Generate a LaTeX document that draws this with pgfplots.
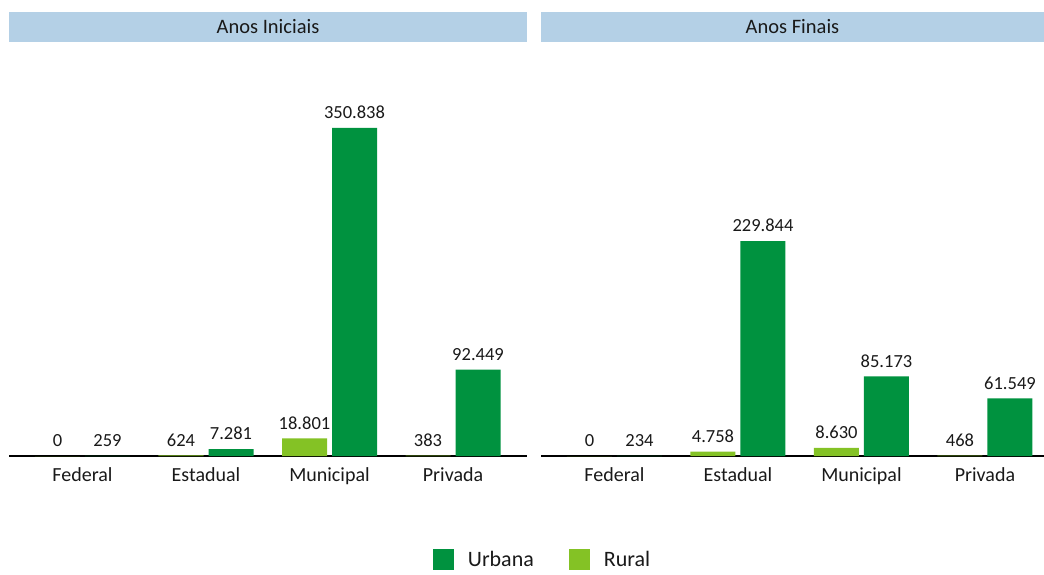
\documentclass[border=0pt]{standalone}
\usepackage{pgfplots}
\pgfplotsset{compat=1.18}
\usepackage{fontspec}
\setmainfont{Carlito}
\definecolor{hdr}{RGB}{180,208,230}
\definecolor{urb}{RGB}{0,146,63}
\definecolor{rur}{RGB}{132,194,37}
\definecolor{txt}{RGB}{25,25,25}

\pgfplotsset{
  panel/.style={
    scale only axis, width=#1, height=414pt,
    ybar=5pt, bar width=45pt,
    ymin=0, ymax=442800, xmin=-0.595,
    axis x line=bottom, axis y line=none,
    axis line style={-, black, line width=1.1pt},
    major tick length=0pt,
    xtick={0,1,2,3},
    xticklabels={Federal,Estadual,Municipal,Privada},
    xticklabel style={font=\fontsize{20}{24}\selectfont, text=txt, yshift=-8pt},
    /pgf/number format/assume math mode=true,
    /pgf/number format/.cd, fixed, precision=0, 1000 sep={.}, /pgfplots/.cd,
    nodes near coords,
    every node near coord/.append style={font=\fontsize{18.5}{22}\selectfont, text=txt, inner sep=0pt, yshift=9pt},
    every axis title shift=0pt,
    title style={at={(0.5,1)}, anchor=south, fill=hdr, minimum width=#1, minimum height=30pt,
      inner sep=0pt, font=\fontsize{20.5}{24}\selectfont, text=txt},
    clip=false,
    area legend,
  },
}

\begin{document}
\begin{tikzpicture}
\path[use as bounding box] (0,0) rectangle (1044pt,574pt);

\begin{axis}[panel=518pt, xmax=3.599, at={(9pt,118pt)}, anchor=south west,
  title={Anos Iniciais},
  legend style={at={(1.029,-0.250)}, anchor=center, draw=none, fill=none,
    font=\fontsize{22}{26}\selectfont, text=txt, legend columns=2,
    inner sep=0pt, nodes={inner sep=1pt},
    /tikz/every odd column/.append style={column sep=13pt},
    /tikz/every even column/.append style={column sep=34pt}},
  legend image code/.code={\fill[#1] (0pt,-10.5pt) rectangle (21pt,10.5pt);},
  reverse legend]
\addplot[fill=rur, draw=none] coordinates {(0,0) (1,624) (2,18801) (3,383)};
\addlegendentry{Rural}
\addplot[fill=urb, draw=none] coordinates {(0,259) (1,7281) (2,350838) (3,92449)};
\addlegendentry{Urbana}
\end{axis}

\begin{axis}[panel=503pt, xmax=3.478, at={(541pt,118pt)}, anchor=south west,
  title={Anos Finais}]
\addplot[fill=rur, draw=none] coordinates {(0,0) (1,4758) (2,8630) (3,468)};
\addplot[fill=urb, draw=none] coordinates {(0,234) (1,229844) (2,85173) (3,61549)};
\end{axis}
\end{tikzpicture}
\end{document}
